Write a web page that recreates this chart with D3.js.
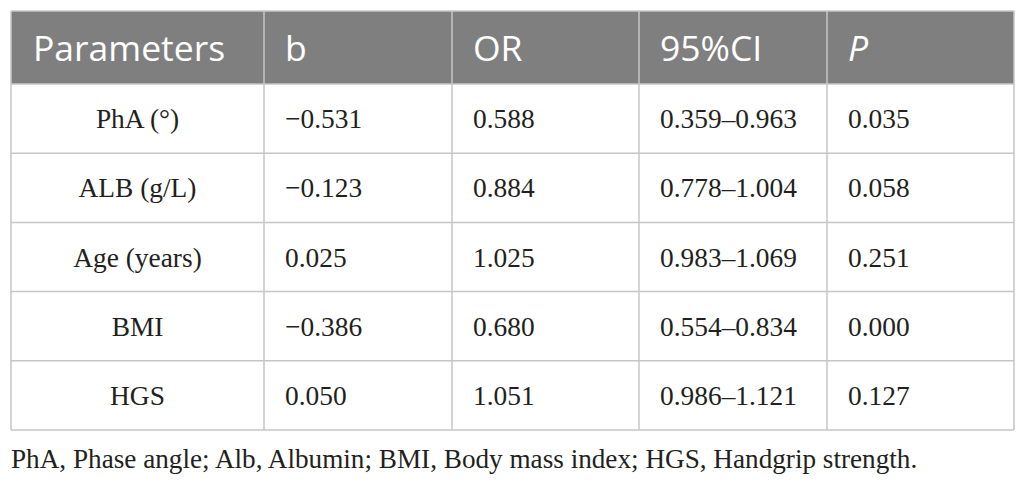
<!DOCTYPE html>
<html>
<head>
<meta charset="utf-8">
<script src="https://cdn.jsdelivr.net/npm/d3@7"></script>
<style>
  body { margin: 0; background: #fff; }
</style>
</head>
<body>
<div class="canva"></div>
<script>
// table data
const headers = ['Parameters', 'b', 'OR', '95%CI', 'P'];
const parameters = ['PhA (°)', 'ALB (g/L)', 'Age (years)', 'BMI', 'HGS'];
const bValues = ['\u22120.531', '\u22120.123', '0.025', '\u22120.386', '0.050'];
const orValues = ['0.588', '0.884', '1.025', '0.680', '1.051'];
const ciValues = ['0.359\u20130.963', '0.778\u20131.004', '0.983\u20131.069', '0.554\u20130.834', '0.986\u20131.121'];
const pValues = ['0.035', '0.058', '0.251', '0.000', '0.127'];
const footnote = 'PhA, Phase angle; Alb, Albumin; BMI, Body mass index; HGS, Handgrip strength.';

const columns = [parameters, bValues, orValues, ciValues, pValues];

const width = 1025, height = 483;
const svg = d3.select('.canva').append('svg')
    .attr('width', width)
    .attr('height', height);

// column edges (layout)
const colEdges = [11, 264, 452, 639, 827, 1014];
const headTop = 11, headBottom = 84, tableBottom = 430;

// row scale for the body rows
const y = d3.scaleBand()
    .domain(d3.range(parameters.length))
    .range([headBottom, tableBottom])
    .padding(0);

const border = '#c6c6c6';

// header background
svg.append('rect')
    .attr('x', colEdges[0])
    .attr('y', headTop)
    .attr('width', colEdges[5] - colEdges[0])
    .attr('height', headBottom - headTop)
    .attr('fill', '#7f7f7f');

// horizontal lines
const hLines = [headTop, headBottom].concat(d3.range(parameters.length).map(i => y(i) + y.bandwidth()));
svg.selectAll('line.h')
    .data(hLines)
    .join('line')
    .attr('class', 'h')
    .attr('x1', colEdges[0])
    .attr('x2', colEdges[5])
    .attr('y1', d => d)
    .attr('y2', d => d)
    .attr('stroke', border)
    .attr('stroke-width', 1.5);

// vertical lines
svg.selectAll('line.v')
    .data(colEdges)
    .join('line')
    .attr('class', 'v')
    .attr('x1', d => d)
    .attr('x2', d => d)
    .attr('y1', headTop)
    .attr('y2', tableBottom)
    .attr('stroke', border)
    .attr('stroke-width', 1.5);

// header labels
svg.selectAll('text.head')
    .data(headers)
    .join('text')
    .attr('class', 'head')
    .text(d => d)
    .attr('x', (d, i) => i === 0 ? colEdges[0] + 22 : colEdges[i] + 21)
    .attr('y', 61)
    .attr('fill', '#fff')
    .attr('font-family', '"Open Sans", sans-serif')
    .attr('font-size', 35.5)
    .attr('font-style', d => d === 'P' ? 'italic' : 'normal');

// body cells
columns.forEach((col, c) => {
  svg.selectAll('text.c' + c)
      .data(col)
      .join('text')
      .attr('class', 'c' + c)
      .text(d => d)
      .attr('x', c === 0 ? (colEdges[0] + colEdges[1]) / 2 : colEdges[c] + 21)
      .attr('y', (d, i) => y(i) + y.bandwidth() / 2 + 9.5)
      .attr('text-anchor', c === 0 ? 'middle' : 'start')
      .attr('fill', '#231f20')
      .attr('font-family', '"Liberation Serif", serif')
      .attr('font-size', 27.4);
});

// footnote
svg.append('text')
    .text(footnote)
    .attr('x', 11)
    .attr('y', 468)
    .attr('fill', '#231f20')
    .attr('font-family', '"Liberation Serif", serif')
    .attr('font-size', 27.2);
</script>
</body>
</html>
